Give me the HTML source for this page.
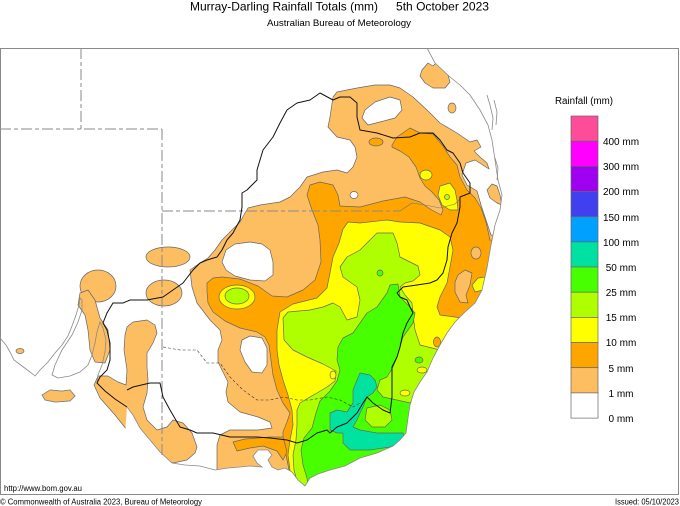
<!DOCTYPE html>
<html><head><meta charset="utf-8"><style>
html,body{margin:0;padding:0;background:#fff;}
svg{display:block;}
text{font-family:"Liberation Sans",Arial,sans-serif;fill:#000;}
</style></head><body>
<svg width="680" height="506" viewBox="0 0 680 506" xmlns="http://www.w3.org/2000/svg">
<defs>
<clipPath id="land">
<path d="M427,0 L427,48 L435,63 L450,77 L460,85 L470,95 L480,110 L488,125 L492,140 L495,160 L498,180 L502,195 L500,210 L495,225 L491,245 L487,268 L482,290 L475,303 L465,312 L455,322 L447,333 L440,345 L433,358 L427,372 L420,382 L414,392 L410,405 L408,418 L406,433 L400,440 L393,446 L377,453 L360,458 L345,466 L330,470 L318,474 L310,478 L305,486 L298,480 L292,472 L285,468 L278,470 L272,467 L268,460 L272,455 L268,450 L258,450 L253,456 L257,463 L262,467 L250,466 L240,467 L228,468 L215,470 L200,466 L185,465 L172,463 L160,452 L150,440 L140,428 L133,415 L127,407 L120,506 L0,506 L0,0 Z"/>
</clipPath>
</defs>
<rect x="0" y="0" width="680" height="506" fill="#fff"/>

<g clip-path="url(#land)" stroke="#666" stroke-width="0.7" stroke-linejoin="round">
<!-- 1mm light orange -->
<g fill="#FDBE62">
<polygon points="337,92 357,88 375,85 390,85 400,88 413,97 427,110 440,123 457,133 470,142 477,140 481,147 474,151 480,157 487,163 489,169 475,160 466,163 462,175 467,185 477,191 481,205 486,220 491,235 520,240 520,500 215,500 217,470 217,445 220,435 230,430 258,430 272,428 270,422 258,417 240,412 228,402 226,392 228,382 223,372 218,362 218,350 222,340 220,330 210,320 197,303 192,287 190,270 200,263 208,258 215,250 222,240 232,230 240,222 245,213 248,208 260,205 280,202 290,197 300,187 307,177 323,172 337,170 347,173 353,167 357,157 355,147 350,140 337,137 328,127 330,117 333,97"/>
<polygon points="422,70 428,63 433,66 437,62 442,68 448,75 450,82 445,88 433,88 425,83 420,76"/>
<ellipse cx="452" cy="108" rx="4" ry="5"/>
<polygon points="487,190 492,184 497,186 500,195 502,205 497,203 490,198"/>
<ellipse cx="168" cy="257" rx="22" ry="10"/>
<ellipse cx="164" cy="293" rx="18" ry="13"/>
<ellipse cx="98" cy="286" rx="18" ry="16"/>
<polygon points="80,293 88,290 95,300 100,318 108,330 110,350 105,363 95,362 90,350 88,330 85,315 78,305"/>
<polygon points="127,327 133,322 147,320 155,325 157,333 153,343 147,353 147,367 148,380 147,393 143,407 147,420 157,430 167,427 173,420 183,423 192,433 197,447 195,453 187,460 173,463 163,460 150,452 140,445 133,437 127,430 115,415 100,398 94,385 98,376 108,376 118,382 126,385 127,370 124,350 125,335"/>
<polygon points="42,395 50,390 62,391 70,390 75,396 70,401 55,402 45,400"/>
<ellipse cx="20" cy="351" rx="4" ry="2.5"/>
</g>
<!-- white holes -->
<g fill="#fff">
<polygon points="222,262 226,250 235,244 250,242 262,244 270,250 273,262 273,275 265,281 250,280 235,276 226,270"/>
<polygon points="242,340 250,336 262,338 267,348 267,365 262,373 252,372 245,362 240,350"/>
<polygon points="365,110 375,102 390,97 400,100 402,110 395,118 380,122 368,125 362,118"/>
<ellipse cx="354" cy="195" rx="4" ry="3.5"/>
</g>
<!-- 5mm orange -->
<g fill="#FFA500">
<polygon points="392,145 397,137 410,128 420,133 433,134 443,146 450,157 457,165 460,177 467,190 475,198 481,208 486,222 490,240 520,245 520,500 295,500 292,485 289,470 286,455 283,440 283,432 287,422 290,413 283,403 277,390 273,375 271,360 269,345 265,337 257,332 240,328 225,321 213,312 208,303 207,292 207,283 213,278 222,277 240,279 258,286 272,296 287,297 303,290 315,280 321,262 320,240 318,225 312,210 307,195 310,185 320,182 333,185 338,195 340,206 360,207 383,201 405,197 420,202 430,209 441,215 443,210 439,200 432,192 425,186 420,178 416,167 409,157 400,151 392,147"/>
<polygon points="233,442 245,439 258,438 270,437 283,437 287,452 283,460 277,451 263,446 250,448 237,451"/>
<ellipse cx="376" cy="142" rx="7" ry="4"/>
</g>
<g fill="#FDBE62">
<polygon points="458,275 465,270 472,273 470,285 466,295 468,303 460,302 455,292 455,282"/>
<ellipse cx="476" cy="253" rx="5" ry="6"/>
</g>
<!-- 10mm yellow -->
<g fill="#FFFF00">
<polygon points="343,229 348,222 360,223 387,220 400,222 420,223 440,230 450,237 453,250 450,267 447,283 440,297 437,307 440,315 462,318 520,330 520,500 297,500 293,485 290,470 288,455 290,440 293,425 292,410 288,395 283,380 279,365 277,350 277,330 280,312 293,304 317,298 327,288 330,273 333,257 339,243"/>
<ellipse cx="237" cy="297" rx="18" ry="12"/>
<ellipse cx="426" cy="175" rx="6" ry="5"/>
<polygon points="440,186 450,183 455,190 457,200 458,210 450,210 442,205 438,195"/>
<polygon points="472,285 478,278 485,277 483,290 475,292"/>
</g>
<!-- 15mm lime -->
<g fill="#B0FF00">
<polygon points="370,240 377,233 393,233 397,243 400,257 410,262 418,266 420,275 413,281 405,283 400,287 405,295 412,303 413,315 415,330 420,345 440,350 520,355 520,500 302,500 298,485 294,470 293,455 296,440 297,425 297,410 300,403 310,397 317,393 327,387 335,381 336,371 323,364 307,357 293,350 284,340 283,318 288,312 310,310 323,307 333,303 340,307 347,320 357,317 360,300 357,287 343,277 340,267 347,257 360,250"/>
<ellipse cx="237" cy="296" rx="12" ry="8"/>
<circle cx="447" cy="197" r="2.5"/>
</g>
<!-- 25mm green -->
<g fill="#48FF00">
<polygon points="377,307 387,293 390,285 398,284 400,297 410,307 415,313 413,323 408,330 403,337 400,347 397,357 393,367 387,377 380,380 377,390 383,397 397,400 410,403 417,393 420,383 440,385 520,400 520,500 310,500 307,478 303,465 301,450 304,438 312,428 316,413 320,401 330,391 337,381 340,370 337,360 338,347 343,338 353,333 360,323 367,313"/>
<ellipse cx="419" cy="360" rx="4" ry="3"/>
<ellipse cx="380" cy="273" rx="3" ry="3"/>
</g>
<!-- 50mm teal -->
<polygon fill="#00E3A0" points="360,373 370,375 375,380 377,387 373,393 367,397 363,407 360,413 357,420 353,427 360,430 377,433 390,433 403,433 405,440 400,443 390,447 370,450 350,450 343,443 343,433 337,433 330,430 330,413 337,410 347,412 353,403 353,390 357,380"/>
<!-- inner patches -->
<polygon fill="#B0FF00" points="367,408 380,405 390,410 392,420 385,427 372,427 365,420"/>
<g fill="#FFFF00">
<ellipse cx="422" cy="370" rx="5" ry="3"/>
<ellipse cx="405" cy="393" rx="5" ry="3"/>
<ellipse cx="333" cy="375" rx="3" ry="4"/>
</g>
<ellipse fill="#FFA500" cx="437" cy="342" rx="3.5" ry="5"/>
</g>

<!-- state borders -->
<g fill="none" stroke="#8a8a8a" stroke-width="1" stroke-dasharray="11,3,4,3">
<polyline points="81,48 81,129"/>
<polyline points="0,129 162,129"/>
<polyline points="162,129 162,455"/>
<polyline points="162,211 400,211"/>
</g>
<polyline fill="none" stroke="#777" stroke-width="0.6" points="400,211 412,203 425,205 440,208 455,204 460,199"/>

<!-- coastline -->
<g fill="none" stroke="#8a8a8a" stroke-width="0.8">
<polyline points="0,338 6,345 10,352 14,360 22,366 30,372 35,376 40,370 48,362 55,353 62,345 68,336 72,326 76,315 79,305 80,298 82,300 82,310 78,322 72,335 62,350 55,365 52,375 58,378 70,376 80,372 88,365 92,355 95,343 97,332 100,322 103,328 106,340 105,352 102,365 98,375 97,383"/>
<polyline points="127,407 133,415 140,428 150,440 160,452 172,463 185,465 200,466 215,470 228,468 240,467 250,466 262,467 257,463 253,456 258,450 268,450 272,455 268,460 272,467 278,470 285,468 292,472 298,480 305,486 310,478 318,474 330,470 345,466 360,458 377,453 393,446 400,440 406,433 408,418 410,405 414,392 420,382 427,372 433,358 440,345 447,333 455,322 465,312 475,303 482,290 487,268 491,245 495,225 500,210 502,195 498,180 495,160 492,140 488,125 480,110 470,95 460,85 450,77 435,63 427,48"/>
<polyline points="487,95 490,105 493,118 492,130"/>
<polyline points="494,100 497,112 496,125"/>
<polyline points="495,158 498,168 497,180"/>
<polygon points="42,395 50,390 62,391 70,390 75,396 70,401 55,402 45,400"/>
</g>

<!-- Murray river -->
<polyline fill="none" stroke="#333" stroke-width="0.6" stroke-dasharray="3,2" points="163,347 180,350 197,350 207,363 220,363 230,377 243,390 257,400 270,400 283,397 297,400 310,400 327,397 340,400 353,407 360,403"/>

<!-- basin boundary -->
<polyline fill="none" stroke="#111" stroke-width="1" stroke-linejoin="round" points="130,300 147,300 163,297 173,290 183,283 193,270 200,263 207,260 217,257 222,250 227,240 233,233 240,220 242,207 242,193 247,190 257,180 257,170 263,150 273,137 280,123 287,110 297,103 310,100 320,93 333,100 340,97 350,97 357,103 357,117 360,130 377,133 393,138 410,137 420,133 433,133 440,140 447,150 453,153 460,163 463,173 470,183 470,193 460,197 460,207 457,223 452,233 448,247 447,260 443,273 437,280 430,283 417,285 403,287 397,293 400,297 407,300 410,307 413,313 407,323 403,333 400,347 397,357 392,367 392,380 392,397 390,413 383,410 373,403 367,397 363,403 357,413 347,423 337,427 330,433 327,430 317,433 307,440 297,443 287,440 270,438 257,437 230,437 213,433 197,433 190,430 180,427 170,410 163,397 160,383 150,383 133,387 127,390"/>
<polyline fill="none" stroke="#111" stroke-width="1" points="130,300 123,303 113,303 107,313 103,323 107,330 110,343 110,360 107,370 100,377 97,383 105,391 115,399 127,407"/>

<!-- frame -->
<rect x="0.5" y="48.5" width="678" height="446" fill="none" stroke="#8a8a8a" stroke-width="1"/>

<!-- titles -->
<text x="190" y="10.5" font-size="12" textLength="188" lengthAdjust="spacingAndGlyphs">Murray-Darling Rainfall Totals (mm)</text>
<text x="396" y="10.5" font-size="12" textLength="93" lengthAdjust="spacingAndGlyphs">5th October 2023</text>
<text x="267" y="26" font-size="9.5" textLength="144" lengthAdjust="spacingAndGlyphs">Australian Bureau of Meteorology</text>

<!-- legend -->
<text x="555" y="104" font-size="10" textLength="58" lengthAdjust="spacingAndGlyphs">Rainfall (mm)</text>
<g stroke="#666" stroke-width="0.7">
<rect x="571" y="116" width="27" height="25.2" fill="#FF4C98"/>
<rect x="571" y="141.2" width="27" height="25.2" fill="#FF00FF"/>
<rect x="571" y="166.3" width="27" height="25.2" fill="#A000F0"/>
<rect x="571" y="191.5" width="27" height="25.2" fill="#4040F0"/>
<rect x="571" y="216.7" width="27" height="25.2" fill="#00A0FF"/>
<rect x="571" y="241.9" width="27" height="25.2" fill="#00E0A0"/>
<rect x="571" y="267" width="27" height="25.2" fill="#48FF00"/>
<rect x="571" y="292.2" width="27" height="25.2" fill="#B0FF00"/>
<rect x="571" y="317.4" width="27" height="25.2" fill="#FFFF00"/>
<rect x="571" y="342.5" width="27" height="25.2" fill="#FFA500"/>
<rect x="571" y="367.7" width="27" height="25.2" fill="#FDBE62"/>
<rect x="571" y="392.9" width="27" height="25.2" fill="#FFFFFF"/>
</g>
<g font-size="10" text-anchor="middle">
<text x="621" y="145">400 mm</text>
<text x="621" y="170">300 mm</text>
<text x="621" y="195">200 mm</text>
<text x="621" y="221">150 mm</text>
<text x="621" y="246">100 mm</text>
<text x="621" y="271">50 mm</text>
<text x="621" y="296">25 mm</text>
<text x="621" y="321">15 mm</text>
<text x="621" y="346">10 mm</text>
<text x="621" y="372">5 mm</text>
<text x="621" y="397">1 mm</text>
<text x="621" y="422">0 mm</text>
</g>

<!-- footer -->
<text x="4" y="491" font-size="8" textLength="78" lengthAdjust="spacingAndGlyphs">http://www.bom.gov.au</text>
<text x="0" y="504.5" font-size="8" textLength="202" lengthAdjust="spacingAndGlyphs">© Commonwealth of Australia 2023, Bureau of Meteorology</text>
<text x="615" y="504.5" font-size="8" textLength="64" lengthAdjust="spacingAndGlyphs">Issued: 05/10/2023</text>
</svg>
</body></html>
